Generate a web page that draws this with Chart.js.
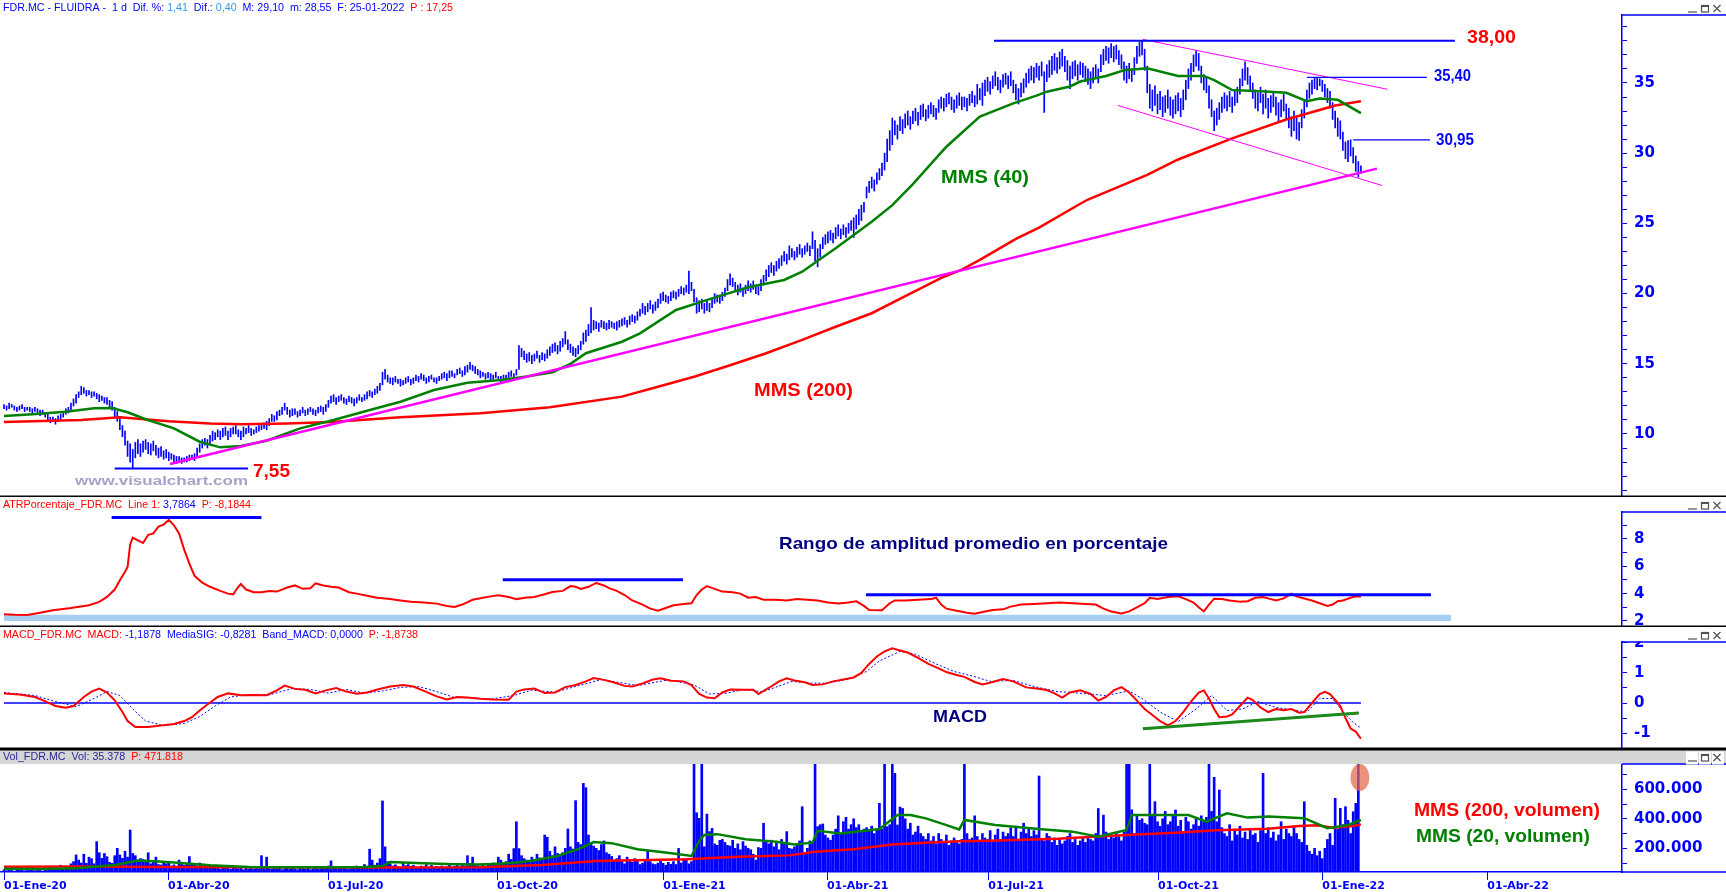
<!DOCTYPE html>
<html><head><meta charset="utf-8">
<script src="https://cdn.jsdelivr.net/npm/chart.js@4.4.1/dist/chart.umd.min.js"></script>
<style>
html,body{margin:0;padding:0;background:#fff;overflow:hidden}
#wrap{position:relative;width:1726px;height:892px;background:#fff}
canvas{position:absolute;left:0}
</style></head><body>
<div id="wrap">
<canvas id="cPrice" width="1726" height="497" style="top:0px"></canvas>
<canvas id="cAtr" width="1726" height="130" style="top:497px"></canvas>
<canvas id="cMacd" width="1726" height="122" style="top:627px"></canvas>
<canvas id="cVol" width="1726" height="143" style="top:749px"></canvas>
</div>
<script>
// ---------------- DATA ----------------
const dateTicks = [0, 63.7, 125.8, 191.5, 256, 319.6, 382.3, 448.2, 512, 576.1];
const dateLabels = ['01-Ene-20','01-Abr-20','01-Jul-20','01-Oct-20','01-Ene-21','01-Abr-21','01-Jul-21','01-Oct-21','01-Ene-22','01-Abr-22'];

// daily price bars (index 0 = 02-01-2020)
const priceLow = [
11.8,11.7,11.8,11.9,11.7,11.6,11.7,11.8,11.6,11.7, 11.6,11.5,11.6,11.5,11.3,11.4,11.2,11.0,10.8,10.9,
10.7,10.9,11.0,11.2,11.4,11.5,11.6,12.0,12.2,12.6, 12.8,12.9,12.7,12.8,12.6,12.7,12.5,12.3,12.4,12.2,
12.1,11.8,11.7,11.2,10.9,10.3,9.8,9.2,8.4,8.0, 7.55,8.3,8.6,8.4,8.7,8.9,8.6,8.5,8.8,8.5,
8.3,8.4,8.2,8.3,8.1,8.2,8.0,7.9,8.0,7.9, 8.0,8.0,8.1,8.2,8.1,8.4,8.7,9.0,9.2,9.0,
9.3,9.5,9.6,9.8,9.6,9.8,9.9,9.6,9.8,10.0, 10.0,9.8,9.6,9.8,10.0,10.1,9.9,10.0,10.1,10.2,
10.3,10.4,10.3,10.6,10.9,10.9,11.0,11.3,11.4,11.7, 11.4,11.2,11.3,11.4,11.2,11.3,11.5,11.3,11.4,11.6,
11.4,11.3,11.5,11.6,11.4,11.6,11.9,12.2,12.3,12.1, 12.3,12.4,12.2,12.1,12.3,12.2,12.0,12.2,12.4,12.3,
12.4,12.5,12.7,12.6,12.8,12.9,13.1,13.5,13.9,13.7, 13.6,13.5,13.7,13.6,13.4,13.5,13.6,13.7,13.5,13.6,
13.8,13.7,13.9,13.8,13.6,13.7,13.9,13.7,13.6,13.8, 13.9,14.0,13.8,14.0,14.1,14.0,14.2,14.3,14.1,14.2,
14.4,14.6,14.5,14.3,14.2,14.0,14.1,13.9,14.0,13.8, 13.9,14.0,13.8,13.7,13.9,13.8,14.0,14.1,14.0,14.2,
14.6,15.5,15.3,15.1,15.2,15.0,15.2,15.4,15.1,15.3, 15.2,15.4,15.6,15.8,15.9,15.7,15.9,16.2,16.4,16.0,
15.8,15.6,15.5,15.7,16.0,16.4,16.6,17.0,17.2,17.4, 17.5,17.3,17.6,17.5,17.4,17.5,17.6,17.5,17.4,17.6,
17.7,17.8,17.6,17.8,18.0,17.9,18.1,18.4,18.6,18.5, 18.7,18.9,18.6,18.8,19.0,19.3,19.5,19.4,19.3,19.5,
19.7,19.6,19.8,20.0,19.9,20.1,20.0,20.2,19.4,18.6, 18.7,18.9,18.6,18.8,18.7,19.0,19.3,19.4,19.3,19.5,
19.8,20.2,20.6,20.5,20.2,19.9,20.1,19.8,20.0,20.2, 20.1,20.3,20.0,19.9,20.2,20.6,20.9,21.2,21.5,21.3,
21.6,21.8,22.0,22.3,22.1,22.4,22.6,22.4,22.6,22.8, 22.6,22.8,23.0,22.7,23.2,22.3,21.9,22.6,23.2,23.5,
23.6,23.8,23.6,23.9,24.1,23.9,24.2,24.0,24.3,24.5, 24.0,24.6,24.9,25.2,25.8,26.8,27.2,27.5,27.3,27.8,
28.1,28.4,28.8,29.4,30.2,30.6,31.3,31.0,31.6,31.4, 31.8,32.0,31.7,32.1,32.3,32.0,32.4,32.6,32.3,32.5,
32.8,32.6,32.4,32.9,33.2,33.0,33.3,33.5,33.1,32.9, 33.2,33.4,33.1,33.3,33.0,33.4,33.6,33.3,33.5,33.8,
33.4,34.1,34.4,34.2,34.6,34.8,34.5,34.3,34.7,34.9, 34.6,34.8,34.3,33.8,33.5,34.0,34.3,34.7,35.0,35.2,
35.0,35.4,35.2,35.5,32.9,35.1,35.4,35.6,35.9,35.7, 36.0,36.2,35.8,35.2,34.6,35.3,35.5,35.2,35.6,35.4,
35.1,34.9,34.6,35.0,35.3,35.0,35.8,36.3,36.6,36.4, 36.8,36.5,36.7,36.3,36.0,35.2,35.0,35.3,35.1,35.6,
36.4,36.9,37.0,35.9,34.3,33.2,33.0,33.4,32.8,33.1, 32.6,32.9,33.2,32.7,32.5,32.8,33.0,32.6,33.1,33.8,
34.6,35.2,35.8,36.2,35.9,35.0,34.5,34.3,33.2,32.6, 31.6,32.0,32.4,32.9,33.2,33.0,33.3,32.9,33.4,33.6,
34.2,34.8,35.2,34.9,34.4,33.9,33.2,33.0,33.6,32.8, 33.2,32.5,32.9,33.3,32.7,32.2,32.6,33.0,32.4,31.8,
31.2,31.6,31.0,30.9,31.8,32.5,33.3,33.9,34.2,34.6, 34.5,34.8,34.4,34.0,33.6,33.2,32.4,31.8,31.2,31.0,
30.2,29.6,29.4,29.8,29.3,28.7,28.3,28.55];
const priceHigh = [
12.1,12.0,12.2,12.1,12.0,11.9,12.0,12.1,11.9,11.9, 11.9,11.8,11.9,11.8,11.7,11.7,11.5,11.4,11.2,11.2,
11.1,11.3,11.4,11.6,11.8,11.9,12.2,12.5,12.8,13.0, 13.4,13.3,13.1,13.1,13.0,13.0,12.9,12.8,12.7,12.6,
12.6,12.4,12.3,11.9,11.6,11.2,10.6,10.2,9.5,9.3, 8.9,9.4,9.6,9.3,9.5,9.6,9.4,9.3,9.5,9.2,
9.0,9.1,8.8,8.9,8.7,8.6,8.5,8.4,8.4,8.3, 8.3,8.4,8.5,8.5,8.6,9.0,9.3,9.6,9.7,9.6,
9.9,10.2,10.1,10.3,10.2,10.4,10.5,10.2,10.4,10.5, 10.6,10.3,10.2,10.5,10.4,10.6,10.4,10.3,10.5,10.6,
10.7,10.8,10.9,11.1,11.4,11.3,11.6,11.7,11.9,12.2, 11.9,11.7,11.8,11.8,11.6,11.7,11.9,11.7,11.8,11.9,
11.8,11.7,11.9,12.0,11.9,12.1,12.4,12.7,12.8,12.6, 12.7,12.8,12.6,12.5,12.7,12.6,12.5,12.6,12.8,12.6,
12.8,13.0,13.1,13.0,13.2,13.4,13.6,14.4,14.6,14.2, 14.0,14.0,14.1,13.9,13.9,13.8,14.0,14.1,13.9,14.0,
14.2,14.1,14.3,14.2,14.0,14.1,14.2,14.0,14.0,14.1, 14.3,14.4,14.3,14.5,14.5,14.3,14.6,14.7,14.5,14.8,
14.9,15.1,14.9,14.8,14.6,14.5,14.4,14.3,14.4,14.3, 14.2,14.4,14.1,14.1,14.2,14.2,14.4,14.5,14.3,14.6,
16.3,16.1,15.9,15.7,15.8,15.6,15.7,15.9,15.6,15.8, 15.7,16.0,16.2,16.4,16.5,16.3,16.6,16.8,17.3,16.7,
16.4,16.2,16.1,16.3,16.6,17.2,17.4,17.8,19.0,18.1, 18.0,17.9,18.1,18.0,17.9,18.1,18.0,17.9,18.0,18.1,
18.2,18.3,18.1,18.4,18.5,18.4,18.7,18.9,19.3,19.1, 19.3,19.5,19.2,19.4,19.6,20.0,20.1,19.9,19.8,20.1,
20.2,20.1,20.3,20.5,20.4,20.6,21.6,20.8,20.3,19.7, 19.5,19.6,19.3,19.5,19.3,19.6,20.0,19.9,19.9,20.1,
20.4,21.0,21.4,21.1,20.8,20.6,20.7,20.4,20.6,20.9, 20.7,20.9,20.6,20.5,21.0,21.3,21.7,22.0,22.2,22.0,
22.3,22.5,22.7,23.0,22.8,23.4,23.2,23.0,23.3,23.5, 23.2,23.4,23.6,23.4,24.4,23.8,23.2,23.5,24.0,24.2,
24.4,24.5,24.3,24.7,24.9,24.6,24.9,24.7,25.0,25.2, 25.4,25.6,26.0,26.3,26.5,27.6,28.0,28.3,28.1,28.6,
28.9,29.3,30.0,31.0,31.6,32.5,32.3,32.0,32.6,32.4, 32.8,33.0,32.6,33.0,33.2,32.9,33.4,33.5,33.1,33.4,
33.6,33.4,33.2,33.8,34.0,33.9,34.2,34.3,34.0,33.8, 34.1,34.3,34.0,34.0,33.9,34.2,34.4,34.1,34.9,34.6,
35.0,35.2,35.4,35.1,35.5,35.8,35.4,35.2,35.6,35.7, 35.5,35.8,35.2,34.9,34.6,35.0,35.3,35.7,36.0,36.2,
36.1,36.4,36.2,36.5,35.8,36.3,36.6,36.9,37.1,36.8, 37.2,37.4,36.9,36.6,36.2,36.5,36.6,36.3,36.5,36.4,
36.2,36.0,35.8,36.1,36.3,36.0,37.0,37.4,37.6,37.5, 37.8,37.6,37.7,37.3,37.0,36.5,36.2,36.4,36.0,36.8,
37.6,37.9,38.0,37.4,36.2,34.9,34.5,34.8,34.2,34.4, 34.0,34.1,34.5,34.0,33.8,34.1,34.3,33.9,34.5,35.2,
36.0,36.4,37.0,37.3,37.1,36.2,35.6,35.4,34.8,33.8, 33.0,33.2,33.6,34.0,34.3,34.1,34.4,34.0,34.5,34.7,
35.3,36.0,36.5,36.1,35.5,35.0,34.5,34.3,34.7,34.2, 34.5,33.9,34.1,34.4,34.0,33.6,33.8,34.2,33.5,33.2,
32.6,33.0,32.5,32.2,33.1,33.8,34.5,35.0,35.2,35.4, 35.4,35.3,35.2,34.9,34.6,34.4,33.6,33.0,32.5,32.3,
31.5,30.8,30.9,30.95,30.4,29.8,29.4,29.1];

// moving averages on price [index, value]
const mms40 = [[0,11.28],[11,11.4],[24,11.59],[35,11.83],[42,11.85],[48,11.55],[55,11.05],[66,10.4],[76,9.45],[84,9.05],[92,9.15],[102,9.52],[115,10.4],[128,11.0],[141,11.66],[154,12.3],[167,13.13],[180,13.65],[193,13.85],[203,14.1],[213,14.4],[220,15.0],[226,15.75],[240,16.57],[247,17.17],[261,18.83],[275,19.66],[289,20.45],[303,20.97],[310,21.56],[323,23.23],[337,25.12],[345,26.3],[353,27.8],[366,30.46],[379,32.6],[392,33.55],[401,34.1],[405,34.38],[414,34.75],[418,35.1],[428,35.5],[435,35.9],[444,36.05],[456,35.5],[466,35.5],[470,35.2],[477,34.5],[490,34.4],[498,34.3],[506,33.7],[511,33.9],[518,33.8],[527,32.85]];
const mms200 = [[0,10.85],[30,11.0],[45,11.2],[64,10.9],[80,10.75],[92,10.7],[110,10.75],[127,10.85],[154,11.2],[185,11.47],[212,11.9],[240,12.66],[254,13.37],[268,14.08],[282,14.9],[296,15.75],[310,16.7],[323,17.64],[337,18.6],[351,19.9],[365,21.2],[372,21.7],[379,22.4],[393,23.9],[402,24.7],[418,26.4],[421,26.7],[444,28.45],[456,29.55],[477,31.05],[498,32.4],[517,33.4],[527,33.7]];

// drawn trend lines / levels on price [index, value]
const level38 = [[384.5,38],[563.5,38]];
const level3540 = [[506,35.4],[552.6,35.4]];
const level3095 = [[524,30.95],[553.8,30.95]];
const level755 = [[43,7.55],[94.8,7.55]];
const channelUp = [[442.3,38.1],[537.3,34.55]];
const channelDown = [[432.6,33.4],[535.2,27.7]];
const supportLine = [[64.5,7.86],[533.2,28.9]];

// ATR %
const atrSeries = [[0,2.5],[4,2.45],[9,2.43],[14,2.6],[19,2.78],[26,2.95],[33,3.15],[37,3.4],[40,3.76],[43,4.3],[45,4.98],[47,5.6],[48,5.95],[49,7.6],[50,8.1],[52,7.9],[54,7.7],[56,8.3],[58,8.4],[60,8.9],[62,9.05],[64,9.4],[66,9.0],[68,8.4],[70,7.2],[72,6.2],[74,5.3],[77,4.8],[80,4.5],[84,4.2],[87,4.0],[89,3.95],[91,4.5],[92,4.7],[94,4.3],[97,4.1],[100,4.1],[103,4.2],[106,4.15],[110,4.45],[113,4.6],[116,4.35],[119,4.4],[121,4.75],[124,4.6],[127,4.5],[130,4.45],[134,4.1],[137,4.0],[141,3.85],[145,3.7],[150,3.6],[154,3.5],[158,3.4],[163,3.35],[168,3.27],[172,3.1],[175,3.02],[178,3.2],[182,3.55],[186,3.7],[189,3.8],[192,3.88],[196,3.75],[199,3.6],[203,3.72],[206,3.76],[210,3.95],[213,4.12],[217,4.2],[220,4.55],[222,4.5],[224,4.35],[227,4.5],[230,4.78],[233,4.6],[235,4.4],[238,4.2],[241,3.9],[244,3.5],[248,3.2],[251,2.9],[254,2.75],[257,2.95],[260,3.15],[264,3.25],[267,3.3],[269,3.9],[271,4.3],[273,4.55],[276,4.35],[279,4.15],[283,4.1],[286,4.0],[289,3.7],[292,3.75],[295,3.55],[300,3.55],[304,3.5],[308,3.6],[312,3.55],[316,3.5],[320,3.35],[324,3.27],[328,3.35],[331,3.44],[334,3.1],[336,2.8],[341,2.78],[344,3.3],[346,3.5],[350,3.5],[355,3.55],[360,3.6],[362,3.7],[364,3.2],[366,2.9],[370,2.75],[374,2.6],[377,2.53],[381,2.7],[384,2.8],[388,2.85],[391,3.05],[395,3.2],[400,3.25],[405,3.3],[410,3.35],[415,3.3],[420,3.25],[424,3.2],[427,2.9],[430,2.7],[434,2.55],[437,2.7],[440,3.0],[443,3.3],[445,3.7],[448,3.6],[452,3.75],[456,3.8],[459,3.6],[462,3.35],[464,3.0],[466,2.7],[468,3.2],[470,3.63],[473,3.6],[476,3.5],[480,3.4],[483,3.45],[486,3.7],[489,3.75],[492,3.6],[494,3.5],[497,3.65],[500,4.0],[502,3.8],[505,3.65],[508,3.5],[511,3.3],[514,3.1],[516,3.2],[518,3.45],[520,3.5],[523,3.7],[525,3.8],[527,3.79]];
const atrLevel1 = [[41.8,9.56],[100,9.56]];
const atrLevel2 = [[193.7,5.02],[263.7,5.02]];
const atrLevel3 = [[334.8,3.92],[554.2,3.92]];
const atrBand = [[0,2.45],[562,2.45]];   // band 2.00 - 2.45

// MACD
const macdSeries = [[0,0.32],[6,0.28],[12,0.2],[17,0.02],[20,-0.1],[24,-0.16],[27,-0.1],[31,0.2],[34,0.38],[37,0.48],[40,0.35],[43,0.09],[46,-0.3],[48,-0.6],[51,-0.8],[56,-0.8],[61,-0.75],[66,-0.7],[70,-0.6],[73,-0.47],[76,-0.25],[79,-0.05],[83,0.2],[87,0.32],[92,0.26],[97,0.27],[102,0.26],[106,0.42],[109,0.58],[113,0.47],[117,0.44],[121,0.32],[125,0.42],[129,0.5],[133,0.38],[137,0.31],[141,0.35],[145,0.45],[150,0.55],[155,0.6],[159,0.55],[164,0.37],[168,0.22],[172,0.12],[176,0.2],[180,0.18],[185,0.14],[190,0.12],[196,0.11],[199,0.38],[202,0.45],[206,0.48],[210,0.33],[214,0.35],[218,0.53],[222,0.6],[226,0.72],[229,0.83],[233,0.77],[237,0.68],[241,0.57],[244,0.55],[248,0.65],[252,0.78],[255,0.82],[259,0.74],[264,0.72],[267,0.6],[270,0.3],[273,0.18],[276,0.16],[279,0.35],[282,0.45],[287,0.44],[291,0.44],[293,0.3],[297,0.5],[301,0.72],[304,0.82],[307,0.75],[311,0.69],[314,0.6],[318,0.62],[322,0.72],[326,0.78],[330,0.85],[333,1.0],[336,1.3],[339,1.55],[342,1.72],[345,1.82],[348,1.75],[351,1.68],[355,1.5],[359,1.3],[363,1.15],[366,1.03],[370,0.93],[373,0.87],[377,0.7],[380,0.62],[384,0.7],[388,0.8],[392,0.72],[397,0.52],[401,0.48],[405,0.43],[408,0.32],[411,0.18],[414,0.35],[418,0.42],[422,0.3],[425,0.08],[428,0.2],[431,0.42],[434,0.53],[437,0.35],[440,0.08],[443,-0.2],[446,-0.4],[449,-0.6],[452,-0.74],[455,-0.6],[458,-0.3],[461,0.05],[464,0.35],[466,0.42],[468,0.15],[470,-0.2],[472,-0.47],[475,-0.45],[477,-0.38],[480,-0.1],[483,0.18],[485,0.1],[488,-0.15],[491,-0.3],[494,-0.2],[497,-0.24],[500,-0.2],[503,-0.32],[505,-0.3],[508,0.0],[511,0.3],[513,0.37],[515,0.3],[517,0.1],[519,-0.1],[521,-0.5],[523,-0.85],[525,-0.95],[527,-1.19]];
const signalSeries = [[0,0.35],[12,0.25],[20,0.05],[28,-0.12],[35,0.15],[40,0.38],[45,0.25],[50,-0.2],[55,-0.6],[62,-0.75],[70,-0.68],[76,-0.45],[82,-0.1],[88,0.2],[95,0.28],[103,0.27],[112,0.48],[119,0.45],[126,0.33],[133,0.45],[140,0.33],[147,0.4],[154,0.52],[161,0.55],[168,0.38],[175,0.18],[182,0.17],[189,0.13],[198,0.25],[205,0.43],[214,0.36],[222,0.55],[232,0.78],[238,0.7],[246,0.58],[258,0.77],[268,0.6],[274,0.3],[280,0.32],[287,0.44],[295,0.38],[306,0.72],[313,0.66],[320,0.66],[328,0.8],[335,1.05],[340,1.4],[348,1.72],[354,1.62],[362,1.3],[369,1.05],[376,0.9],[383,0.72],[392,0.75],[400,0.55],[409,0.38],[415,0.35],[421,0.3],[428,0.25],[437,0.4],[442,0.15],[449,-0.3],[456,-0.62],[463,-0.2],[469,0.25],[475,-0.25],[481,-0.2],[487,0.05],[494,-0.15],[500,-0.22],[506,-0.3],[511,0.15],[516,0.15],[520,-0.3],[524,-0.65],[527,-0.83]];
const macdZero = [[0,0],[527,0]];
const macdSupport = [[442.3,-0.86],[526.2,-0.33]];

// daily volume (thousands of shares)
const volume = [
55,48,62,50,45,70,52,58,47,60, 50,65,48,55,62,45,58,50,72,60, 66,58,85,62,70,60,95,110,155,120,
100,160,98,140,130,95,245,170,132,165, 143,105,98,150,200,155,132,180,140,324, 165,150,110,130,125,118,170,95,108,140,
90,87,105,95,110,80,88,75,120,100, 85,92,144,95,88,80,100,93,78,85, 70,75,66,82,60,72,68,80,58,65,
70,62,75,55,68,60,72,58,65,62, 150,70,140,64,58,75,62,68,55,60, 72,58,65,60,55,70,62,58,66,55,
60,68,58,75,62,70,80,115,72,65, 60,68,75,62,58,70,66,80,72,64, 90,75,194,120,85,100,130,521,210,110,
95,80,88,75,70,100,82,90,78,85, 72,66,80,75,90,70,84,66,78,72, 80,68,75,85,70,78,90,74,88,80,
150,96,140,90,82,78,95,72,84,90, 100,85,140,120,95,110,160,125,198,380, 198,150,130,120,110,140,125,160,135,120,
290,275,180,150,210,165,145,170,200,331, 210,195,523,240,225,640,611,290,230,215, 200,185,225,250,170,160,145,120,130,150,
110,95,140,120,105,130,115,90,100,125, 180,110,95,90,100,120,98,85,105,92, 110,90,199,100,130,120,95,110,790,441,
403,790,210,432,313,335,230,220,254,260, 240,220,215,254,200,230,190,245,215,200, 190,160,120,205,200,370,245,230,255,210,
240,190,260,230,313,200,195,210,225,250, 482,170,200,250,240,790,347,360,365,290, 270,255,290,330,420,300,380,410,330,360,
400,340,360,310,330,340,320,350,300,330, 505,330,790,347,360,790,708,358,480,470, 400,330,370,290,310,350,300,280,260,300,
250,280,230,300,260,240,290,220,250,270, 240,230,260,790,300,260,270,420,280,250, 300,270,260,320,240,290,330,260,310,280,
300,340,280,350,260,310,370,300,330,280, 320,290,690,260,250,300,280,240,270,220, 260,230,250,280,300,240,260,220,250,270,
240,280,260,250,300,470,280,425,310,260, 290,270,300,280,250,310,790,790,461,300, 420,390,400,370,360,790,420,516,380,349,
400,450,360,380,420,460,350,390,300,410, 380,330,360,400,350,420,380,410,790,450, 681,380,595,340,300,280,360,250,320,290,
350,270,310,260,330,290,300,240,320,708, 300,340,270,310,250,290,380,260,330,300, 280,350,300,260,240,516,220,180,160,200,
150,180,130,200,260,300,220,539,330,471, 360,482,390,300,448,505,790,35];
const volMa20 = [[0,62],[15,60],[28,65],[43,87],[52,117],[60,110],[66,104],[80,85],[95,73],[110,72],[125,72],[140,74],[147,80],[150,107],[160,100],[175,92],[185,90],[192,96],[198,102],[205,115],[215,148],[223,194],[229,242],[236,235],[246,194],[257,171],[267,148],[270,250],[272,290],[277,296],[288,261],[300,245],[307,226],[314,238],[316,319],[325,301],[340,331],[347,425],[352,425],[358,403],[364,369],[371,328],[373,392],[385,358],[403,329],[415,313],[425,279],[436,324],[438,426],[460,426],[467,381],[475,437],[483,408],[491,415],[505,404],[514,336],[522,358],[527,392]];
const volMa200 = [[0,75],[30,76],[60,74],[100,71],[150,70],[185,72],[209,87],[230,114],[265,125],[285,143],[305,152],[315,177],[330,194],[345,226],[360,240],[371,248],[383,252],[409,265],[436,290],[455,306],[471,322],[491,333],[503,351],[510,356],[516,340],[524,351],[527,362]];

// ---------------- LAYOUT / STYLE ----------------
const X_MIN = -1.553, X_MAX = 628.4;
const BLUE = '#0000ff', RED = '#ff0000', GREEN = '#008000', NAVY = '#000080', MAG = '#ff00ff';
const AXIS_FONT = {family:'DejaVu Sans', weight:'bold', size:15};
const CLEAR = 'rgba(0,0,0,0)';

function pts(a){ return a.map(p => ({x:p[0], y:p[1]})); }
function lineDs(a, color, width, extra){
  return Object.assign({type:'line', data:pts(a), borderColor:color, backgroundColor:color, borderWidth:width,
    pointRadius:0, fill:false, tension:0}, extra || {});
}
function xAxis(show){
  const c = {type:'linear', min:X_MIN, max:X_MAX, offset:false, display:show, position:'bottom', grid:{offset:false}};
  if (show) {
    Object.assign(c, {
      afterBuildTicks(s){ s.ticks = dateTicks.map(v => ({value:v})); },
      ticks:{autoSkip:false, maxRotation:0, minRotation:0, align:'start', padding:1, color:BLUE,
        font:{family:'DejaVu Sans', weight:'bold', size:11}, callback:(v,i) => dateLabels[i]},
      // native tick marks kept for spacing but made invisible; marks drawn at the tick values below
      grid:{offset:false, drawOnChartArea:false, drawTicks:true, tickLength:7, color:CLEAR, tickColor:CLEAR, lineWidth:1},
      border:{display:true, color:BLUE, width:1.5},
      afterFit(s){ s.height = 20; s.paddingLeft = 0; s.paddingRight = 0; }
    });
  }
  return c;
}
function yAxis(min, max, step, cb){
  return {type:'linear', position:'right', min, max, offset:false,
    border:{display:true, color:BLUE, width:1.5},
    grid:{offset:false, drawOnChartArea:false, drawTicks:true, tickLength:5, color:BLUE, tickColor:BLUE, lineWidth:1},
    ticks:{stepSize:step, autoSkip:false, includeBounds:false, padding:7, color:BLUE, font:AXIS_FONT, callback:cb},
    afterFit(s){ s.width = 104; s.paddingTop = 0; s.paddingBottom = 0; }
  };
}
function isMult(v, m){ const r = v / m; return Math.abs(r - Math.round(r)) < 1e-6; }

function segText(ctx, segs, x, y, width, font){
  ctx.save(); ctx.font = font; ctx.textBaseline = 'middle'; ctx.textAlign = 'left';
  let w = 0; segs.forEach(s => w += ctx.measureText(s[0]).width);
  ctx.translate(x, y); ctx.scale(width / w, 1);
  let cx = 0;
  segs.forEach(s => { ctx.fillStyle = s[1]; ctx.fillText(s[0], cx, 0); cx += ctx.measureText(s[0]).width; });
  ctx.restore();
}
function label(ctx, s, x, y, width, font, color){ segText(ctx, [[s, color]], x, y, width, font); }

function buttons(ctx, y, boxed){
  ctx.save();
  if (boxed) { ctx.fillStyle = '#ffffff'; ctx.fillRect(1686, y-6, 12, 13); ctx.fillRect(1699, y-6, 12, 13); ctx.fillRect(1712, y-6, 12, 13); }
  ctx.strokeStyle = '#505050'; ctx.fillStyle = '#505050'; ctx.lineWidth = 1.2;
  ctx.beginPath(); ctx.moveTo(1688, y+3.5); ctx.lineTo(1697, y+3.5); ctx.stroke();
  ctx.strokeRect(1701.5, y-3, 7, 6.5); ctx.fillRect(1701, y-3.5, 8, 2);
  ctx.beginPath(); ctx.moveTo(1713.5, y-3.5); ctx.lineTo(1720.5, y+3.5); ctx.moveTo(1720.5, y-3.5); ctx.lineTo(1713.5, y+3.5); ctx.stroke();
  ctx.restore();
}

function panelPlugin(name, o){
  return {id:'panel' + name, afterDraw(chart){
    const ctx = chart.ctx, a = chart.chartArea, W = chart.width, H = chart.height;
    ctx.save();
    if (o.header) { ctx.fillStyle = o.header; ctx.fillRect(0, 1, W, a.top - 1); }
    else { ctx.fillStyle = '#ffffff'; ctx.fillRect(a.right + 1, 0, W - a.right, a.top - 0.5); }
    ctx.strokeStyle = BLUE; ctx.lineWidth = 1.5;
    ctx.beginPath(); ctx.moveTo(a.right, a.top); ctx.lineTo(W, a.top); ctx.stroke();
    if (o.sepBottom) { ctx.fillStyle = '#000'; ctx.fillRect(0, H - 1.5, W, 1.5); }
    if (o.sepTop) { ctx.fillStyle = '#000'; ctx.fillRect(0, 0, W, 1.5); }
    ctx.restore();
    buttons(ctx, 8.5, !!o.header);
    if (o.title) segText(ctx, o.title, 3, 8, o.titleW, '11px "Liberation Sans"');
    if (o.draw) o.draw(chart, ctx);
  }};
}

const common = (y, xShow) => ({
  responsive:false, animation:false, devicePixelRatio:1, events:[],
  layout:{padding:{top:15, left:0, right:0, bottom:0}},
  plugins:{legend:{display:false}, tooltip:{enabled:false}},
  scales:{x:xAxis(xShow), y:y}
});

// ---------------- PRICE ----------------
const priceBars = priceLow.map((l, i) => ({x:i, y:[l, priceHigh[i]]}));
new Chart(document.getElementById('cPrice'), {
  type:'bar',
  data:{datasets:[
    lineDs(level38, BLUE, 2),
    lineDs(level3540, BLUE, 1.2),
    lineDs(level3095, BLUE, 1.2),
    lineDs(level755, BLUE, 2),
    lineDs(channelUp, MAG, 1),
    lineDs(channelDown, MAG, 1),
    lineDs(supportLine, MAG, 2.5),
    lineDs(mms40, '#008000', 2.5),
    lineDs(mms200, RED, 2.5),
    {type:'bar', data:priceBars, backgroundColor:BLUE, borderWidth:0, barThickness:1}
  ]},
  options: common(yAxis(5.513, 39.84, 1, v => isMult(v,5) ? String(Math.round(v)) : ''), false),
  plugins:[panelPlugin('P', {sepBottom:true, titleW:450,
    title:[['FDR.MC - FLUIDRA -  1 d  Dif. %: ', BLUE], ['1,41', '#3399e6'], ['  Dif.: ', BLUE], ['0,40', '#3399e6'],
           ['  M: 29,10  m: 28,55  F: 25-01-2022  ', BLUE], ['P : 17,25', RED]],
    draw(chart, ctx){
      const ys = chart.scales.y;
      label(ctx, '38,00', 1467, ys.getPixelForValue(38) - 3, 49, 'bold 19px "Liberation Sans"', RED);
      label(ctx, '35,40', 1434, ys.getPixelForValue(35.4) - 1, 37, 'bold 16px "Liberation Sans"', BLUE);
      label(ctx, '30,95', 1436, ys.getPixelForValue(30.95) + 1, 38, 'bold 16px "Liberation Sans"', BLUE);
      label(ctx, '7,55', 253, ys.getPixelForValue(7.55) + 3, 37, 'bold 19px "Liberation Sans"', RED);
      label(ctx, 'www.visualchart.com', 75, 481, 173, 'bold 13px "Liberation Sans"', '#a4a4c8');
      label(ctx, 'MMS (40)', 941, 178, 88, 'bold 19px "Liberation Sans"', '#008000');
      label(ctx, 'MMS (200)', 754, 391, 99, 'bold 19px "Liberation Sans"', RED);
    }})]
});

// ---------------- ATR ----------------
new Chart(document.getElementById('cAtr'), {
  type:'line',
  data:{datasets:[
    lineDs(atrLevel1, BLUE, 3),
    lineDs(atrLevel2, BLUE, 3),
    lineDs(atrLevel3, BLUE, 3),
    lineDs(atrSeries, RED, 2),
    lineDs(atrBand, '#a6cdf2', 0, {fill:{value:2.0}, backgroundColor:'#a6cdf2'})
  ]},
  options: common(yAxis(1.56, 9.97, 1, v => isMult(v,2) ? String(Math.round(v)) : ''), false),
  plugins:[panelPlugin('A', {sepBottom:true, titleW:248,
    title:[['ATRPorcentaje_FDR.MC  Line 1: ', RED], ['3,7864', BLUE], ['  P: -8,1844', RED]],
    draw(chart, ctx){
      label(ctx, 'Rango de amplitud promedio en porcentaje', 779, 47, 389, 'bold 17px "Liberation Sans"', NAVY);
    }})]
});

// ---------------- MACD ----------------
new Chart(document.getElementById('cMacd'), {
  type:'line',
  data:{datasets:[
    lineDs(macdSupport, '#1a8a1a', 3),
    lineDs(macdSeries, RED, 2),
    lineDs(signalSeries, BLUE, 1, {borderDash:[2,2]}),
    lineDs(macdZero, BLUE, 1.5)
  ]},
  options: common(yAxis(-1.53, 2.03, 0.5, v => isMult(v,1) ? String(Math.round(v)) : ''), false),
  plugins:[panelPlugin('M', {sepBottom:true, titleW:415,
    title:[['MACD_FDR.MC  MACD: ', RED], ['-1,1878  MediaSIG: -0,8281  Band_MACD: 0,0000  ', BLUE], ['P: -1,8738', RED]],
    draw(chart, ctx){
      label(ctx, 'MACD', 933, 90, 54, 'bold 17px "Liberation Sans"', NAVY);
    }})]
});

// ---------------- VOLUME ----------------
new Chart(document.getElementById('cVol'), {
  type:'bar',
  data:{datasets:[
    lineDs(volMa20, '#008000', 2.5),
    lineDs(volMa200, RED, 2.5),
    {type:'bar', data:volume.map((v, i) => ({x:i, y:v})), backgroundColor:BLUE, borderWidth:0, barThickness:2}
  ]},
  options: common(yAxis(39.3, 771.5, 100, v => isMult(v,200) ? Math.round(v) + '.000' : ''), true),
  plugins:[panelPlugin('V', {sepTop:true, header:'#d6d6d6', titleW:180,
    title:[['Vol_FDR.MC  Vol: 35.378  ', '#28289a'], ['P: 471.818', RED]],
    draw(chart, ctx){
      const a = chart.chartArea, xs = chart.scales.x, ys = chart.scales.y;
      ctx.save();
      ctx.strokeStyle = BLUE; ctx.lineWidth = 1.5;
      ctx.beginPath(); ctx.moveTo(a.right, a.bottom); ctx.lineTo(chart.width, a.bottom); ctx.stroke();
      // date tick marks at the tick values of the x scale
      ctx.lineWidth = 1;
      xs.ticks.forEach(t => {
        const px = Math.round(xs.getPixelForValue(t.value)) + 0.5;
        ctx.beginPath(); ctx.moveTo(px, a.bottom); ctx.lineTo(px, a.bottom + 8); ctx.stroke();
      });
      ctx.fillStyle = 'rgba(226,104,76,0.72)';
      ctx.beginPath(); ctx.ellipse(xs.getPixelForValue(526.6), ys.getPixelForValue(680), 9.5, 13.5, 0, 0, Math.PI*2); ctx.fill();
      ctx.restore();
      label(ctx, 'MMS (200, volumen)', 1414, 62, 186, 'bold 19px "Liberation Sans"', RED);
      label(ctx, 'MMS (20, volumen)', 1416, 88, 174, 'bold 19px "Liberation Sans"', '#008000');
    }})]
});
</script>
</body></html>
